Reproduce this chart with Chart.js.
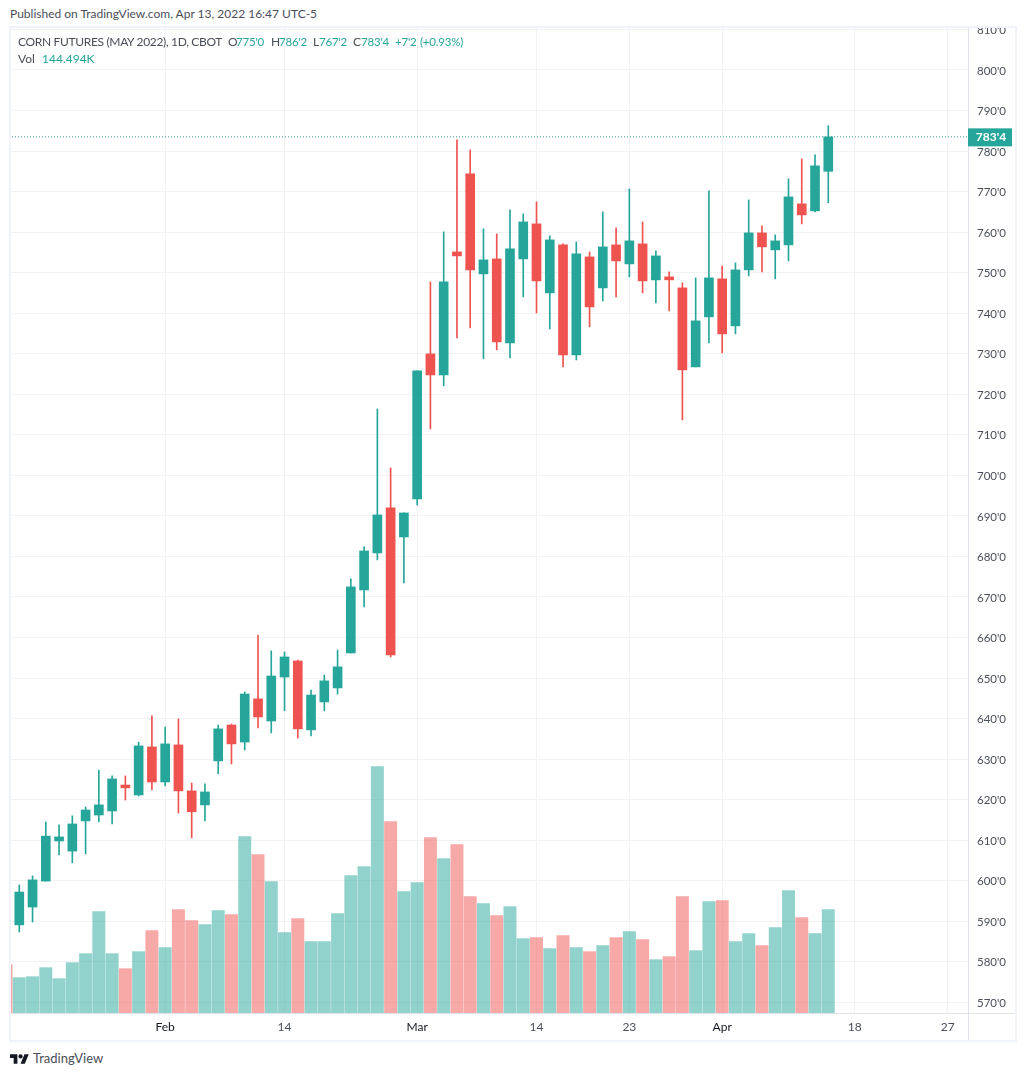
<!DOCTYPE html>
<html lang="en">
<head>
<meta charset="UTF-8">
<title>Corn Futures (May 2022)</title>
<script src="https://cdnjs.cloudflare.com/ajax/libs/Chart.js/4.4.1/chart.umd.min.js"></script>
<style>
    html, body { margin: 0; padding: 0; background: #fff; }
    body { position: relative; width: 1026px; height: 1076px; overflow: hidden; font-family: Lato, sans-serif; font-size: 12px; color: #4a4e5a; }
    .txt { position: absolute; white-space: nowrap; line-height: 16px; }
    .tight { letter-spacing: -0.33px; }
    .val { font-size: 11.5px; letter-spacing: -0.2px; }
    .up { color: #26a69a; }
    #frame { position: absolute; left: 9px; top: 26px; width: 1004px; height: 1012px; border: 2px solid #f0f3fa; }
    #wrap { position: absolute; left: 10px; top: 27px; width: 1006px; height: 1014px; }
    #logo { position: absolute; left: 10px; top: 1052px; }
</style>
</head>
<body>
<div id="wrap"><canvas id="chart"></canvas></div>
<div id="frame"></div>
<div class="txt" style="left:10px;top:6px">Published on TradingView.com, Apr 13, 2022 16:47 UTC-5</div>
<div class="txt tight" style="left:18px;top:34px">CORN FUTURES (MAY 2022), 1D, CBOT</div>
<div class="txt" style="left:228px;top:34px">O</div><div class="txt val up" style="left:236px;top:34px">775'0</div>
<div class="txt" style="left:271px;top:34px">H</div><div class="txt val up" style="left:279px;top:34px">786'2</div>
<div class="txt" style="left:313px;top:34px">L</div><div class="txt val up" style="left:319px;top:34px">767'2</div>
<div class="txt" style="left:353px;top:34px">C</div><div class="txt val up" style="left:361px;top:34px">783'4</div>
<div class="txt val up" style="left:395px;top:34px">+7'2</div>
<div class="txt val up" style="left:420px;top:34px">(+0.93%)</div>
<div class="txt" style="left:18px;top:51px">Vol</div>
<div class="txt up" style="left:42px;top:51px">144.494K</div>
<svg id="logo" width="19" height="13" viewBox="0 0 36 24"><path fill="#131722" d="M14 22H7V11H0V4h14v18zM28 22h-8l7.5-18h8L28 22z"/><circle fill="#131722" cx="20" cy="8" r="4"/></svg>
<div class="txt" style="left:33px;top:1050px;font-size:13px;color:#4a4e5a">TradingView</div>

<script>
// trading days, the future ones only carry the time axis
var dates = ["Jan 13","Jan 14","Jan 18","Jan 19","Jan 20","Jan 21","Jan 24","Jan 25","Jan 26","Jan 27","Jan 28","Jan 31",
    "Feb 1","Feb 2","Feb 3","Feb 4","Feb 7","Feb 8","Feb 9","Feb 10","Feb 11","Feb 14","Feb 15","Feb 16","Feb 17","Feb 18",
    "Feb 22","Feb 23","Feb 24","Feb 25","Feb 28","Mar 1","Mar 2","Mar 3","Mar 4","Mar 7","Mar 8","Mar 9","Mar 10","Mar 11",
    "Mar 14","Mar 15","Mar 16","Mar 17","Mar 18","Mar 21","Mar 22","Mar 23","Mar 24","Mar 25","Mar 28","Mar 29","Mar 30","Mar 31",
    "Apr 1","Apr 4","Apr 5","Apr 6","Apr 7","Apr 8","Apr 11","Apr 12","Apr 13","Apr 14","Apr 18","Apr 19","Apr 20","Apr 21","Apr 22",
    "Apr 25","Apr 26","Apr 27"];

var opens = [601,589.1,593.5,599.9,609.8,607.3,614.75,616.2,617.2,623.6,621.15,633,624.35,633.5,622.15,618.7,629.55,638.4,634.2,644.85,639.4,
    650.25,654.2,637.2,644.1,647.55,656.18,671.73,680.86,691.96,684.8,694.18,729.95,724.77,755.12,774.37,749.69,753.39,732.67,753.39,762.03,
    745.01,756.85,729.71,753.89,746.24,756.85,752.16,757.1,748.21,748.96,746.24,726.75,739.09,748.46,736.87,750.68,759.81,755.62,756.85,766.97,765.24,775];
var highs = [602,598.95,601.2,614.5,613.75,616,618.2,627.3,625.85,625.85,634.2,640.65,637.9,639.9,624.1,623.9,638.4,638.65,646.55,660.6,656.7,
    656.45,654.45,647.05,650.75,656.9,674.44,682.34,716.38,701.83,690.72,725.76,747.72,760.06,782.76,780.29,760.8,759.56,765.48,764.5,767.46,
    759.07,757.1,757.59,755.12,764.99,761.04,770.67,762.52,755.37,750.19,747.48,748.71,770.17,751.67,752.41,767.95,761.54,759.32,773.14,778.07,779.06,786.25];
var lows = [588,587.35,589.8,599.9,606.35,604.4,606.6,614.5,614,619.9,620.9,622.4,623.4,616.7,610.55,614.75,626.35,628.8,632.25,637.7,636.45,
    641.9,635.2,635.7,641.9,646.05,656.18,667.53,679.13,655.2,673.45,692.7,711.45,722.06,733.9,736.37,728.72,730.94,728.97,744.02,740.07,
    736.12,726.75,728.47,736.62,743.03,744.02,748.95,745.01,742.54,740.57,713.67,726.75,732.67,730.2,734.89,749.2,750.19,748.46,752.9,762.03,764.99,767.25];
var closes = [589.5,597.2,600.2,611,610.8,614,617.45,618.7,625.1,622.9,633.25,624.35,633.75,622.15,617,621.9,637.45,633.75,646.05,640.4,650.5,
    655.2,637.45,645.8,649.3,652.75,672.47,681.35,690.23,655.69,690.72,725.76,724.77,747.72,754.13,750.68,753.15,732.92,755.86,762.52,747.97,
    758.08,729.71,754.63,741.55,756.36,752.9,757.84,747.97,754.13,748.22,726.01,738.1,748.71,734.89,750.68,759.81,756.36,757.84,768.69,764.25,776.34,783.5];
var volumes = [67.6,49.4,50.8,63.4,48,70.4,83,141.7,83,62,85.8,115.2,91.4,144.5,129.1,123.5,143.1,137.5,246.6,221.4,183.7,
    112.4,131.9,99.8,99.8,138.9,192.1,204.7,344.5,267.6,169.7,182.3,245.2,215.9,235.4,162.7,152.9,136.1,148.7,104,105.4,
    90,108.2,91.4,85.8,94.2,105.4,113.8,102.6,74.6,78.8,162.7,87.2,155.7,157.1,99.8,111,94.2,119.3,171.1,133.3,111,144.494];

var tickDates = ["Feb 1","Feb 14","Mar 1","Mar 14","Mar 23","Apr 1","Apr 18","Apr 27"];
var tickLabels = ["Feb","14","Mar","14","23","Apr","18","27"];
var monthLabels = ["Feb","Mar","Apr"];

var lastClose = closes[closes.length - 1];
var lastLabel = "783'4";

var UP = '#26a69a', DOWN = '#ef5350', UP_VOL = 'rgba(38,166,154,0.5)', DOWN_VOL = 'rgba(239,83,80,0.5)';
var GRID = '#f2f2f3', EDGE = '#e0e3eb', FONT = 'Lato, sans-serif';

var xMin = 0.3, xMax = 72.535;
var isUp = closes.map(function (c, i) { return c >= opens[i]; });
var candleColors = isUp.map(function (u) { return u ? UP : DOWN; });
var volumeColors = isUp.map(function (u) { return u ? UP_VOL : DOWN_VOL; });

// separators and the last price tag on the price scale
var priceTag = {
    id: 'priceTag',
    afterDraw: function (chart) {
        var c = chart.ctx, area = chart.chartArea, y = chart.scales.y.getPixelForValue(lastClose);
        c.save();
        c.strokeStyle = EDGE;
        c.lineWidth = 1;
        c.beginPath();
        c.moveTo(area.right + 0.5, 0);
        c.lineTo(area.right + 0.5, chart.height);
        c.moveTo(0, area.bottom + 0.5);
        c.lineTo(chart.width, area.bottom + 0.5);
        c.stroke();
        c.fillStyle = UP;
        c.fillRect(area.right, y - 8.5, 44, 18);
        c.fillStyle = '#fff';
        c.font = 'bold 12px ' + FONT;
        c.textAlign = 'center';
        c.textBaseline = 'middle';
        c.fillText(lastLabel, area.right + 23, y + 0.5);
        c.restore();
    }
};

new Chart(document.getElementById('chart'), {
    type: 'bar',
    data: {
        datasets: [{
            label: 'Vol',
            yAxisID: 'vol',
            order: 4,
            data: volumes.map(function (v, i) { return { x: i, y: v }; }),
            backgroundColor: volumeColors,
            barThickness: 12.3
        }, {
            type: 'line',
            label: 'Last',
            order: 3,
            data: [{ x: 0, y: lastClose }, { x: xMax, y: lastClose }],
            borderColor: '#2f8f87',
            borderWidth: 1,
            borderDash: [1, 2],
            pointRadius: 0
        }, {
            label: 'High-Low',
            order: 2,
            data: highs.map(function (h, i) { return { x: i, y: [lows[i], h] }; }),
            backgroundColor: candleColors,
            barThickness: 1
        }, {
            label: 'Open-Close',
            order: 1,
            data: opens.map(function (o, i) { return { x: i, y: [o, closes[i]] }; }),
            backgroundColor: candleColors,
            barThickness: 9
        }]
    },
    options: {
        responsive: true,
        maintainAspectRatio: false,
        animation: false,
        events: [],
        datasets: { bar: { grouped: false } },
        plugins: { legend: { display: false }, tooltip: { enabled: false } },
        scales: {
            x: {
                type: 'linear',
                min: xMin,
                max: xMax,
                offset: false,
                grid: { color: GRID, drawTicks: false, offset: false },
                border: { display: false },
                afterBuildTicks: function (s) {
                    s.ticks = tickDates.map(function (d) { return { value: dates.indexOf(d) }; });
                },
                afterFit: function (s) { s.height = 28; s.paddingLeft = 0; s.paddingRight = 0; },
                ticks: {
                    autoSkip: false,
                    maxRotation: 0,
                    padding: 7,
                    font: { family: FONT, size: 12 },
                    color: function (ctx) {
                        return monthLabels.indexOf(ctx.tick.label) >= 0 ? '#131722' : '#4a4e5a';
                    },
                    callback: function (v) { return tickLabels[tickDates.indexOf(dates[v])]; }
                }
            },
            y: {
                position: 'right',
                min: 567.36,
                max: 810.6,
                grid: { color: GRID, drawTicks: false },
                border: { display: false },
                afterFit: function (s) { s.width = 48; s.paddingTop = 0; s.paddingBottom = 0; },
                ticks: {
                    stepSize: 10,
                    includeBounds: false,
                    padding: 9,
                    labelOffset: 1,
                    font: { family: FONT, size: 11.5 },
                    color: '#4a4e5a',
                    callback: function (v) { return v + "'0"; }
                }
            },
            vol: {
                display: false,
                min: 0,
                max: 1379
            }
        },
        layout: { padding: 0 }
    },
    plugins: [priceTag]
});
</script>
</body>
</html>
